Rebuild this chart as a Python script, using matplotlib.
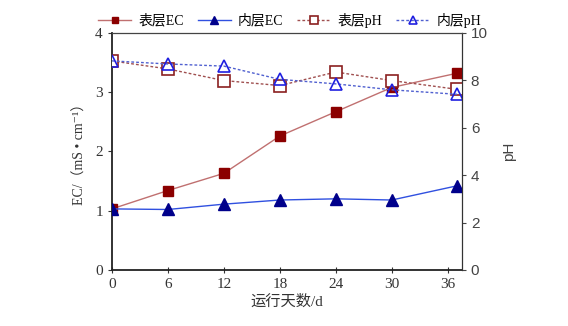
import matplotlib.pyplot as plt
import numpy as np

plt.rcParams['font.family'] = ['Liberation Serif', 'Noto Sans CJK SC', 'DejaVu Sans']

days = [0, 6, 12, 18, 24, 30, 37]
ec_surface = [1.03, 1.34, 1.63, 2.26, 2.67, 3.08, 3.32]
ec_inner = [1.03, 1.02, 1.11, 1.18, 1.20, 1.18, 1.42]
ph_surface = [8.82, 8.48, 7.99, 7.78, 8.35, 7.99, 7.62]
ph_inner = [8.82, 8.69, 8.60, 8.04, 7.85, 7.60, 7.41]
x_ticks = [0, 6, 12, 18, 24, 30, 36]

fig = plt.figure(figsize=(5.68, 3.26), dpi=100)
ax = fig.add_axes([0.197, 0.172, 0.616, 0.727])
ax2 = ax.twinx()

l1, = ax.plot(days, ec_surface, color='#c07070', lw=1.0, marker='s', ms=7,
              mfc='#8b0000', mec='#8b0000', label='表层EC', zorder=3)
l2, = ax.plot(days, ec_inner, color='#3050e0', lw=1.0, marker='^', ms=8,
              mfc='#00008b', mec='#00008b', label='内层EC', zorder=3)
l3, = ax2.plot(days, ph_surface, color='#a05050', lw=1.0, ls=(0, (2, 1.5)),
               marker='s', ms=8, mfc='white', mec='#8b2020', mew=1.2, label='表层pH')
l4, = ax2.plot(days, ph_inner, color='#5060d0', lw=1.0, ls=(0, (2, 1.5)),
               marker='^', ms=9, mfc='none', mec='#2020e0', mew=1.2, label='内层pH')

ax.set_xlim(0, 37.5)
ax.set_ylim(0, 4)
ax2.set_ylim(0, 10)
ax.set_xticks(x_ticks)
ax.set_yticks([0, 1, 2, 3, 4])
ax2.set_yticks([0, 2, 4, 6, 8, 10])

ax.tick_params(axis='both', labelsize=11, colors='#333333', length=3)
ax.tick_params(axis='x', direction='inout', length=5)
ax2.tick_params(axis='y', labelsize=11, colors='#444444', length=3)
for lab in ax2.get_yticklabels():
    lab.set_family(['Liberation Sans'])

for sp in ['left', 'bottom']:
    ax.spines[sp].set_linewidth(1.3)
    ax.spines[sp].set_color('#222222')
ax2.spines['right'].set_color('#333333')
ax2.spines['top'].set_color('#444444')
ax2.spines['left'].set_visible(False)
ax2.spines['bottom'].set_visible(False)

ax.set_xlabel('运行天数/d', fontsize=11, color='#333333', labelpad=2)
ax.set_ylabel('EC/（mS • cm⁻¹）', fontsize=10, color='#333333', labelpad=6)
ax2.set_ylabel('pH', fontsize=11, color='#444444', family=['Liberation Sans'], labelpad=10)

fig.legend(handles=[l1, l2, l3, l4], loc='upper center', bbox_to_anchor=(0.51, 1.0),
           ncol=4, frameon=False, fontsize=10, handlelength=2.4, columnspacing=1.0,
           handletextpad=0.5, markerscale=0.7)

fig.savefig('out.png', dpi=100)
